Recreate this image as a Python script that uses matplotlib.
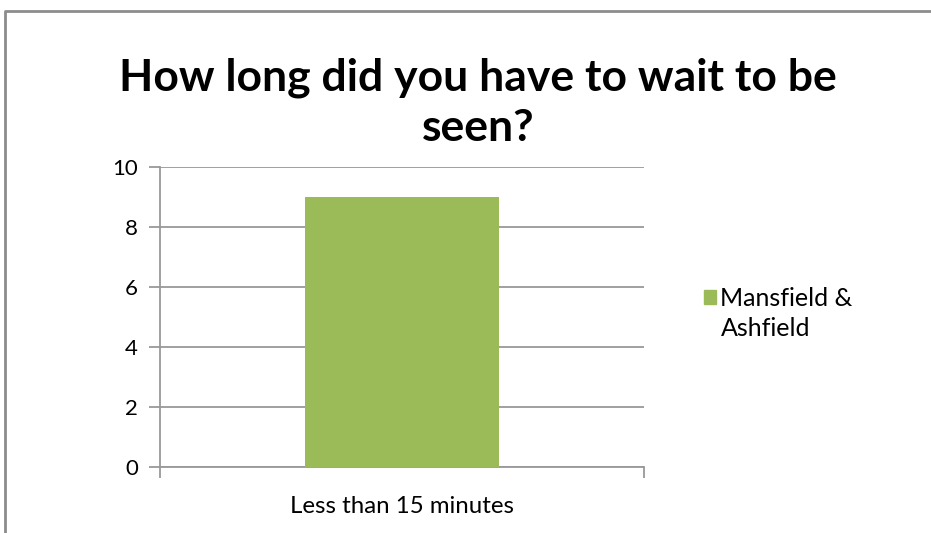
import matplotlib.pyplot as plt
from matplotlib.lines import Line2D
from matplotlib.patches import Patch

categories = ['Less than 15 minutes']
values = [9]
series_name = ['Mansfield &', 'Ashfield']
title = 'How long did you have to wait to be\nseen?'
bar_color = '#9BBB59'
grid_color = '#999999'

plt.rcParams['font.family'] = ['Lato', 'DejaVu Sans']

fig = plt.figure(figsize=(9.31, 5.33), dpi=100)
ax = fig.add_axes([160 / 931, 1 - 467 / 533, 484 / 931, 300 / 533])

# outer chart frame (only left and top edges visible in the crop)
fx, fy = 5 / 931, 1 - 11 / 533
fig.add_artist(Line2D([fx, fx, 1], [0, fy, fy], transform=fig.transFigure,
                      color='#8c8c8c', linewidth=2))

x = range(len(categories))
bars = ax.bar(x, values, width=0.4, color=bar_color, zorder=3)
ax.set_xlim(-0.5, len(categories) - 0.5)
ax.set_ylim(0, 10)
ax.set_yticks(range(0, 11, 2))
ax.yaxis.grid(True, color=grid_color, linewidth=1.3)
ax.set_axisbelow(True)

for s in ['top', 'right']:
    ax.spines[s].set_visible(False)
for s in ['left', 'bottom']:
    ax.spines[s].set_color(grid_color)
    ax.spines[s].set_linewidth(1.3)

ax.set_xticks([-0.5, 0.5])
ax.set_xticklabels([])
ax.set_xticks(list(x), minor=True)
ax.set_xticklabels(categories, minor=True)
ax.tick_params(axis='x', which='minor', length=0, labelsize=17.3, pad=21)
ax.tick_params(axis='x', which='major', length=8, color=grid_color, width=1.3)
ax.tick_params(axis='y', length=8, color=grid_color, width=1.3, labelsize=16, pad=8)

fig.text(478 / 931, 1 - 58 / 533, title, ha='center', va='top', fontsize=32,
         fontweight='bold', linespacing=1.3)

# legend: coloured square next to the first line of the two-line label
handles = [Patch(color=bar_color), Patch(color='none')]
ax.legend(handles, series_name, loc='upper left', bbox_to_anchor=(544 / 484, (467 - 287) / 300),
          frameon=False, fontsize=18, handlelength=0.48, handleheight=0.48,
          handletextpad=0.18, labelspacing=0.3, borderpad=0, borderaxespad=0)

fig.savefig('out.png', dpi=100)
